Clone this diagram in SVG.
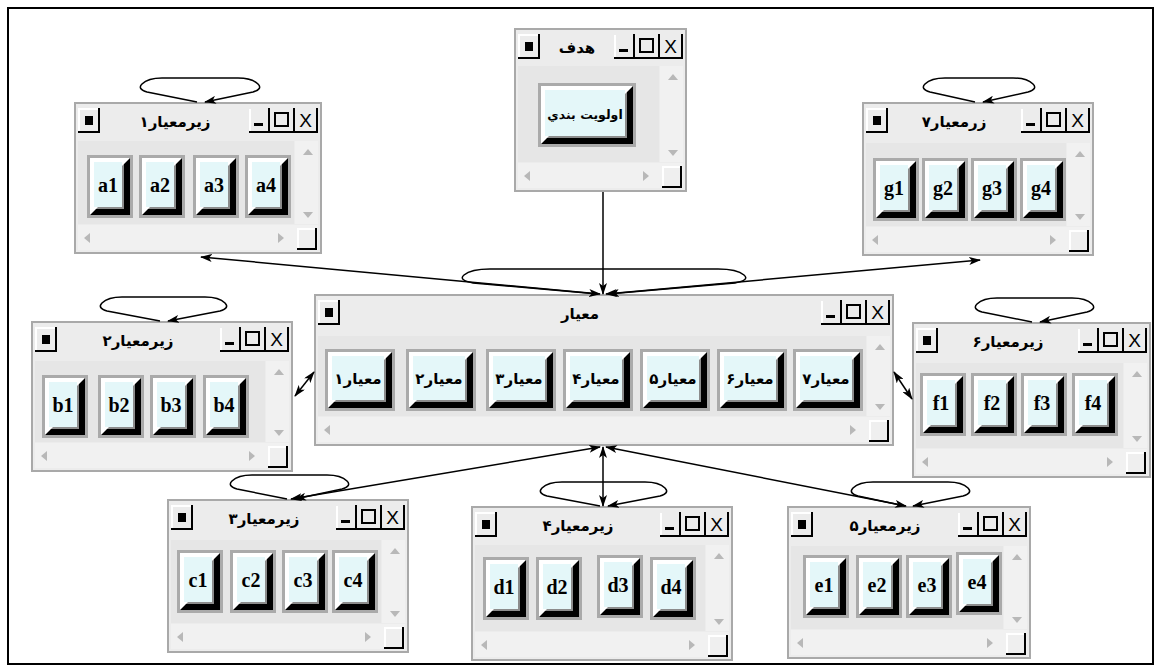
<svg xmlns="http://www.w3.org/2000/svg" xmlns:xlink="http://www.w3.org/1999/xlink" width="1161" height="671" viewBox="0 0 1161 671">
<style>
.win{fill:#ececec;stroke:#a9a9a9;stroke-width:2}
.pane{fill:#e6e6e6}
.trk{fill:#f1f1f1}
.ttl{font-family:"DejaVu Sans",sans-serif;font-weight:bold;font-size:15px;text-anchor:middle;fill:#000}
.crt{font-family:"DejaVu Sans",sans-serif;font-weight:bold;font-size:15px;text-anchor:middle;fill:#000}
.lt{font-family:"Liberation Serif",serif;font-weight:bold;font-size:20px;text-anchor:middle;fill:#000}
.xl{font-family:"Liberation Sans",sans-serif;font-size:19px;text-anchor:middle;fill:#000}
.tri{fill:#b8b8b8}
.cn{fill:none;stroke:#000;stroke-width:1.5}
</style>
<defs>
<marker id="ah" viewBox="0 0 12 8" refX="11" refY="4" markerWidth="12" markerHeight="8" orient="auto-start-reverse" markerUnits="userSpaceOnUse"><path d="M0,0 L12,4 L0,8 L3,4 z" fill="#000"/></marker>
<g id="btnS"><rect width="46" height="63" fill="#aaaaaa"/><rect x="3" y="3" width="40" height="57" fill="#fff"/><polygon points="43,3 43,60 3,60 9,54 37,54 37,9" fill="#000"/><polygon points="37,9 37,54 9,54 11,52 35,52 35,11" fill="#8c8c8c"/><rect x="7" y="7" width="28" height="45" fill="#e4f7f9"/></g>
<g id="btnL"><rect width="70" height="62" fill="#aaaaaa"/><rect x="3" y="3" width="64" height="56" fill="#fff"/><polygon points="67,3 67,59 3,59 9,53 61,53 61,9" fill="#000"/><polygon points="61,9 61,53 9,53 11,51 59,51 59,11" fill="#8c8c8c"/><rect x="7" y="7" width="52" height="44" fill="#e4f7f9"/></g>
<g id="btnG"><rect width="98" height="64" fill="#aaaaaa"/><rect x="3" y="3" width="92" height="58" fill="#fff"/><polygon points="95,3 95,61 3,61 9,55 89,55 89,9" fill="#000"/><polygon points="89,9 89,55 9,55 11,53 87,53 87,11" fill="#8c8c8c"/><rect x="7" y="7" width="80" height="46" fill="#e4f7f9"/></g>
<g id="tb"><rect width="22" height="25" fill="#ececec"/><path d="M1,25 V1 H22" fill="none" stroke="#fff" stroke-width="2"/><path d="M0,24 H21 V0" fill="none" stroke="#000" stroke-width="2"/><rect x="7" y="8" width="8" height="9" fill="#000"/></g>
<g id="ctl"><rect width="69" height="25" fill="#ececec"/><path d="M1,24 V1" stroke="#fff" stroke-width="2"/><rect x="5" y="15" width="9" height="3" fill="#000"/><rect x="26" y="5" width="13" height="13" fill="none" stroke="#000" stroke-width="2"/><path d="M0,24 H69 M20,0 V24 M45,0 V24 M68,0 V24" stroke="#000" stroke-width="2"/><text class="xl" x="56.5" y="19">X</text></g>
<g id="cr"><rect width="20" height="22" fill="#efefef"/><path d="M1,21 V1 H19" stroke="#fff" stroke-width="2" fill="none"/><path d="M0,21 H19 V0" stroke="#000" stroke-width="2" fill="none"/></g>
<path id="tu" class="tri" d="M-5,3 L0,-3 L5,3 z"/>
<path id="td" class="tri" d="M-5,-3 L0,3 L5,-3 z"/>
<path id="tl" class="tri" d="M3,-5 L-3,0 L3,5 z"/>
<path id="tr" class="tri" d="M-3,-5 L3,0 L-3,5 z"/>
</defs>
<rect x="0" y="0" width="1161" height="671" fill="#fff"/>
<rect x="8" y="8" width="1145" height="656" fill="none" stroke="#000" stroke-width="2"/>

<!-- goal -->
<g id="goal" transform="translate(515,29)">
<rect class="win" width="171" height="162"/>
<rect class="pane" x="3" y="37" width="141" height="96"/>
<rect class="trk" x="145" y="37" width="23" height="96"/>
<rect class="trk" x="3" y="134" width="165" height="25"/>
<use href="#tb" x="3" y="5"/><use href="#ctl" x="99" y="5"/>
<text class="ttl" x="62" y="24">هدف</text>
<use href="#tu" x="158" y="48"/><use href="#td" x="158" y="124"/><use href="#tl" x="12" y="147"/><use href="#tr" x="131" y="147"/><use href="#cr" x="147" y="137"/>
<use href="#btnG" x="23" y="54"/><text class="crt" x="70" y="90" style="font-size:12.5px">اولويت بندي</text>
</g>

<!-- a -->
<g id="sub1" transform="translate(75,103)">
<rect class="win" width="246" height="150"/>
<rect class="pane" x="3" y="38" width="216" height="83"/>
<rect class="trk" x="220" y="38" width="23" height="83"/>
<rect class="trk" x="3" y="122" width="240" height="25"/>
<use href="#tb" x="3" y="5"/><use href="#ctl" x="174" y="5"/>
<text class="ttl" x="100" y="24">زیرمعیار۱</text>
<use href="#tu" x="233" y="49"/><use href="#td" x="233" y="112"/><use href="#tl" x="12" y="135"/><use href="#tr" x="206" y="135"/><use href="#cr" x="222" y="125"/>
<use href="#btnS" x="12" y="52"/><text class="lt" x="33" y="89">a1</text>
<use href="#btnS" x="64" y="52"/><text class="lt" x="85" y="89">a2</text>
<use href="#btnS" x="118" y="52"/><text class="lt" x="139" y="89">a3</text>
<use href="#btnS" x="170" y="52"/><text class="lt" x="191" y="89">a4</text>
</g>

<!-- b -->
<g id="sub2" transform="translate(32,322)">
<rect class="win" width="260" height="149"/>
<rect class="pane" x="3" y="39" width="230" height="81"/>
<rect class="trk" x="234" y="39" width="23" height="81"/>
<rect class="trk" x="3" y="121" width="254" height="25"/>
<use href="#tb" x="3" y="5"/><use href="#ctl" x="188" y="5"/>
<text class="ttl" x="106" y="24">زیرمعیار۲</text>
<use href="#tu" x="247" y="50"/><use href="#td" x="247" y="111"/><use href="#tl" x="12" y="134"/><use href="#tr" x="220" y="134"/><use href="#cr" x="236" y="124"/>
<use href="#btnS" x="10" y="53"/><text class="lt" x="31" y="90">b1</text>
<use href="#btnS" x="66" y="53"/><text class="lt" x="87" y="90">b2</text>
<use href="#btnS" x="118" y="53"/><text class="lt" x="139" y="90">b3</text>
<use href="#btnS" x="171" y="53"/><text class="lt" x="192" y="90">b4</text>
</g>

<!-- c -->
<g id="sub3" transform="translate(168,500)">
<rect class="win" width="240" height="152"/>
<rect class="pane" x="3" y="40" width="210" height="83"/>
<rect class="trk" x="214" y="40" width="23" height="83"/>
<rect class="trk" x="3" y="124" width="234" height="25"/>
<use href="#tb" x="3" y="5"/><use href="#ctl" x="168" y="5"/>
<text class="ttl" x="96" y="24">زیرمعیار۳</text>
<use href="#tu" x="227" y="51"/><use href="#td" x="227" y="114"/><use href="#tl" x="12" y="137"/><use href="#tr" x="200" y="137"/><use href="#cr" x="216" y="127"/>
<use href="#btnS" x="9" y="50"/><text class="lt" x="30" y="87">c1</text>
<use href="#btnS" x="62" y="50"/><text class="lt" x="83" y="87">c2</text>
<use href="#btnS" x="114" y="50"/><text class="lt" x="135" y="87">c3</text>
<use href="#btnS" x="164" y="50"/><text class="lt" x="185" y="87">c4</text>
</g>

<!-- d -->
<g id="sub4" transform="translate(472,507)">
<rect class="win" width="260" height="153"/>
<rect class="pane" x="3" y="38" width="230" height="86"/>
<rect class="trk" x="234" y="38" width="23" height="86"/>
<rect class="trk" x="3" y="125" width="254" height="25"/>
<use href="#tb" x="3" y="5"/><use href="#ctl" x="188" y="5"/>
<text class="ttl" x="106" y="24">زیرمعیار۴</text>
<use href="#tu" x="247" y="49"/><use href="#td" x="247" y="115"/><use href="#tl" x="12" y="138"/><use href="#tr" x="220" y="138"/><use href="#cr" x="236" y="128"/>
<use href="#btnS" x="11" y="50"/><text class="lt" x="32" y="87">d1</text>
<use href="#btnS" x="64" y="50"/><text class="lt" x="85" y="87">d2</text>
<use href="#btnS" x="125" y="48"/><text class="lt" x="146" y="85">d3</text>
<use href="#btnS" x="178" y="50"/><text class="lt" x="199" y="87">d4</text>
</g>

<!-- e -->
<g id="sub5" transform="translate(788,507)">
<rect class="win" width="242" height="151"/>
<rect class="pane" x="3" y="39" width="212" height="83"/>
<rect class="trk" x="216" y="39" width="23" height="83"/>
<rect class="trk" x="3" y="123" width="236" height="25"/>
<use href="#tb" x="3" y="5"/><use href="#ctl" x="170" y="5"/>
<text class="ttl" x="97" y="24">زیرمعیار۵</text>
<use href="#tu" x="229" y="50"/><use href="#td" x="229" y="113"/><use href="#tl" x="12" y="136"/><use href="#tr" x="202" y="136"/><use href="#cr" x="218" y="126"/>
<use href="#btnS" x="15" y="48"/><text class="lt" x="36" y="85">e1</text>
<use href="#btnS" x="68" y="48"/><text class="lt" x="89" y="85">e2</text>
<use href="#btnS" x="118" y="48"/><text class="lt" x="139" y="85">e3</text>
<use href="#btnS" x="168" y="45"/><text class="lt" x="189" y="82">e4</text>
</g>

<!-- f -->
<g id="sub6" transform="translate(913,323)">
<rect class="win" width="237" height="154"/>
<rect class="pane" x="3" y="40" width="207" height="85"/>
<rect class="trk" x="211" y="40" width="23" height="85"/>
<rect class="trk" x="3" y="126" width="231" height="25"/>
<use href="#tb" x="3" y="5"/><use href="#ctl" x="165" y="5"/>
<text class="ttl" x="95" y="24">زیرمعیار۶</text>
<use href="#tu" x="224" y="51"/><use href="#td" x="224" y="116"/><use href="#tl" x="12" y="139"/><use href="#tr" x="197" y="139"/><use href="#cr" x="213" y="129"/>
<use href="#btnS" x="7" y="50"/><text class="lt" x="28" y="87">f1</text>
<use href="#btnS" x="58" y="50"/><text class="lt" x="79" y="87">f2</text>
<use href="#btnS" x="108" y="50"/><text class="lt" x="129" y="87">f3</text>
<use href="#btnS" x="159" y="50"/><text class="lt" x="180" y="87">f4</text>
</g>

<!-- g -->
<g id="sub7" transform="translate(863,103)">
<rect class="win" width="230" height="152"/>
<rect class="pane" x="3" y="40" width="200" height="83"/>
<rect class="trk" x="204" y="40" width="23" height="83"/>
<rect class="trk" x="3" y="124" width="224" height="25"/>
<use href="#tb" x="3" y="5"/><use href="#ctl" x="158" y="5"/>
<text class="ttl" x="91" y="24">زرمعیار۷</text>
<use href="#tu" x="217" y="51"/><use href="#td" x="217" y="114"/><use href="#tl" x="12" y="137"/><use href="#tr" x="190" y="137"/><use href="#cr" x="206" y="127"/>
<use href="#btnS" x="10" y="55"/><text class="lt" x="31" y="92">g1</text>
<use href="#btnS" x="59" y="55"/><text class="lt" x="80" y="92">g2</text>
<use href="#btnS" x="108" y="55"/><text class="lt" x="129" y="92">g3</text>
<use href="#btnS" x="157" y="55"/><text class="lt" x="178" y="92">g4</text>
</g>

<!-- center -->
<g id="criteria" transform="translate(315,295)">
<rect class="win" width="578" height="150"/>
<rect class="pane" x="3" y="41" width="548" height="80"/>
<rect class="trk" x="552" y="41" width="23" height="80"/>
<rect class="trk" x="3" y="122" width="572" height="25"/>
<use href="#tb" x="3" y="5"/><use href="#ctl" x="506" y="5"/>
<text class="ttl" x="265" y="24">معیار</text>
<use href="#tu" x="565" y="52"/><use href="#td" x="565" y="112"/><use href="#tl" x="12" y="135"/><use href="#tr" x="538" y="135"/><use href="#cr" x="554" y="125"/>
<use href="#btnL" x="10" y="54"/><text class="crt" x="43" y="89">معیار۱</text>
<use href="#btnL" x="91" y="54"/><text class="crt" x="124" y="89">معیار۲</text>
<use href="#btnL" x="171" y="54"/><text class="crt" x="204" y="89">معیار۳</text>
<use href="#btnL" x="248" y="54"/><text class="crt" x="281" y="89">معیار۴</text>
<use href="#btnL" x="325" y="54"/><text class="crt" x="358" y="89">معیار۵</text>
<use href="#btnL" x="402" y="54"/><text class="crt" x="435" y="89">معیار۶</text>
<use href="#btnL" x="478" y="54"/><text class="crt" x="511" y="89">معیار۷</text>
</g>

<g id="connectors">
<path class="cn" d="M603,192 V294" marker-end="url(#ah)"/>
<path class="cn" d="M201,257 L600,294" marker-start="url(#ah)" marker-end="url(#ah)"/>
<path class="cn" d="M980,260 L606,294" marker-start="url(#ah)" marker-end="url(#ah)"/>
<path class="cn" d="M295,396 L314,372" marker-start="url(#ah)" marker-end="url(#ah)"/>
<path class="cn" d="M894,372 L912,399" marker-start="url(#ah)" marker-end="url(#ah)"/>
<path class="cn" d="M600,447 L291,499" marker-start="url(#ah)" marker-end="url(#ah)"/>
<path class="cn" d="M603,447 V506" marker-start="url(#ah)" marker-end="url(#ah)"/>
<path class="cn" d="M606,447 L906,506" marker-start="url(#ah)" marker-end="url(#ah)"/>
<!-- self loops -->
<path class="cn" d="M197,102 L147,92 Q137,89 142,84 Q148,78 162,78 L238,78 Q252,78 258,84 Q263,89 253,92 L205,102" marker-end="url(#ah)"/>
<path class="cn" d="M160,321 L107,311 Q97,308 102,303 Q108,297 122,297 L205,297 Q219,297 225,303 Q230,308 220,311 L168,321" marker-end="url(#ah)"/>
<path class="cn" d="M287,499 L237,489 Q227,486 232,481 Q238,475 252,475 L327,475 Q341,475 347,481 Q352,486 342,489 L295,499" marker-end="url(#ah)"/>
<path class="cn" d="M600,506 L547,496 Q537,493 542,488 Q548,482 562,482 L645,482 Q659,482 665,488 Q670,493 660,496 L608,506" marker-end="url(#ah)"/>
<path class="cn" d="M905,506 L858,496 Q848,493 853,488 Q859,482 873,482 L948,482 Q962,482 968,488 Q973,493 963,496 L913,506" marker-end="url(#ah)"/>
<path class="cn" d="M1032,322 L982,312 Q972,309 977,304 Q983,298 997,298 L1072,298 Q1086,298 1092,304 Q1097,309 1087,312 L1040,322" marker-end="url(#ah)"/>
<path class="cn" d="M975,102 L930,92 Q920,89 925,84 Q931,78 945,78 L1013,78 Q1027,78 1033,84 Q1038,89 1028,92 L983,102" marker-end="url(#ah)"/>
<path class="cn" d="M598,294 L473,283 Q458,280 464,275 Q471,269 490,269 L718,269 Q737,269 744,275 Q750,280 735,283 L608,294" marker-end="url(#ah)"/>
</g>
</svg>
